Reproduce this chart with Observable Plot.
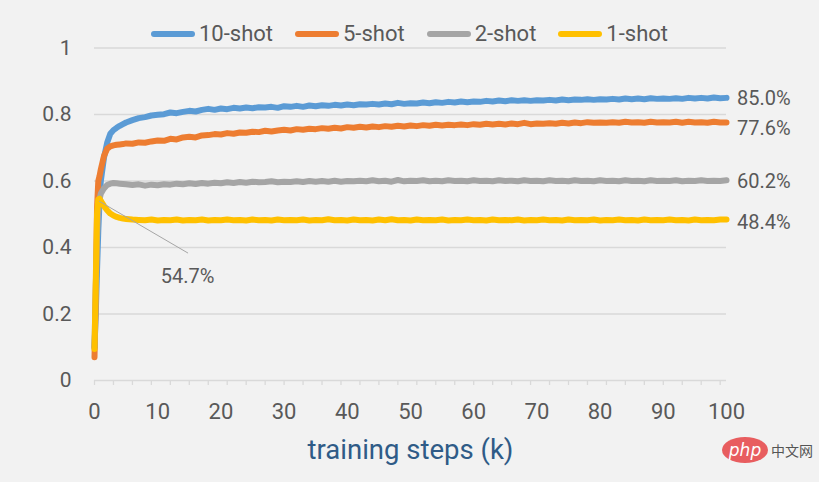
<!DOCTYPE html>
<html>
<head>
<meta charset="utf-8">
<script src="https://cdn.jsdelivr.net/npm/d3@7"></script>
<script src="https://cdn.jsdelivr.net/npm/@observablehq/plot@0.6"></script>
<style>
  html, body { margin: 0; padding: 0; background: #f2f2f2; }
  #wrap { position: relative; width: 819px; height: 482px; overflow: hidden; font-family: Roboto, "Open Sans", sans-serif; }
  #legend { position: absolute; top: 21px; left: 0; width: 819px; display: flex; justify-content: center; gap: 22px; font-size: 22px; color: #595959; z-index: 2; }
  #legend .item { display: flex; align-items: center; gap: 4px; }
  #legend .sw { width: 44px; height: 6px; border-radius: 3px; }
  svg g[aria-label^="x-axis"] line, svg g[aria-label^="x-axis"] path { stroke: #d9d9d9 !important; stroke-width: 1.3px; }
  #wm { position: absolute; left: 722px; top: 437px; display: flex; align-items: center; gap: 3px; }
  #wm .logo { width: 46px; height: 26px; border-radius: 50%; background: #e85d5f; color: #fff; font: italic 17px "DejaVu Sans", sans-serif; display: flex; align-items: center; justify-content: center; }
  #wm .cn { font: 14px "Noto Sans CJK SC", sans-serif; color: #555; }
</style>
</head>
<body>
<div id="wrap">
  <div id="legend"></div>
  <div id="chart"></div>
  <div id="wm"><div class="logo">php</div><div class="cn">中文网</div></div>
</div>
<script>
const series = ["10-shot", "5-shot", "2-shot", "1-shot"];
const colors = ["#5b9bd5", "#ed7d31", "#a5a5a5", "#ffc000"];

const steps = [0,0.2,0.4,0.6,0.8,1,1.5,2,2.5,3,3.5,4,4.5,
  5,6,7,8,9,10,11,12,13,14,15,16,17,18,19,20,
  21,22,23,24,25,26,27,28,29,30,31,32,33,34,35,36,37,38,39,40,
  41,42,43,44,45,46,47,48,49,50,51,52,53,54,55,56,57,58,59,60,
  61,62,63,64,65,66,67,68,69,70,71,72,73,74,75,76,77,78,79,80,
  81,82,83,84,85,86,87,88,89,90,91,92,93,94,95,96,97,98,99,100];

const shot10 = [0.100,0.200,0.330,0.450,0.540,0.600,0.670,0.715,0.742,0.753,0.760,0.766,0.771,
  0.776,0.783,0.789,0.792,0.797,0.799,0.801,0.806,0.804,0.808,0.811,0.809,0.814,0.817,0.814,0.818,
  0.816,0.820,0.818,0.821,0.819,0.822,0.821,0.823,0.820,0.825,0.823,0.826,0.823,0.827,0.825,0.828,0.826,0.829,0.827,0.830,
  0.828,0.831,0.830,0.832,0.830,0.833,0.831,0.835,0.832,0.834,0.833,0.836,0.834,0.837,0.835,0.838,0.836,0.839,0.837,0.839,
  0.838,0.841,0.839,0.842,0.840,0.843,0.841,0.843,0.841,0.843,0.842,0.844,0.842,0.845,0.843,0.845,0.844,0.846,0.844,0.846,
  0.845,0.847,0.845,0.848,0.846,0.848,0.846,0.849,0.847,0.848,0.847,0.849,0.847,0.850,0.848,0.850,0.848,0.851,0.849,0.850];

const shot5 = [0.070,0.250,0.520,0.600,0.615,0.635,0.675,0.697,0.704,0.707,0.709,0.710,0.711,
  0.713,0.712,0.716,0.715,0.719,0.722,0.721,0.727,0.725,0.731,0.733,0.731,0.737,0.738,0.741,0.740,
  0.744,0.742,0.746,0.745,0.748,0.747,0.751,0.749,0.752,0.754,0.752,0.756,0.754,0.757,0.756,0.759,0.757,0.760,0.758,0.762,
  0.760,0.763,0.761,0.764,0.762,0.765,0.763,0.766,0.764,0.767,0.765,0.768,0.766,0.769,0.767,0.769,0.768,0.770,0.768,0.771,
  0.769,0.772,0.770,0.772,0.770,0.773,0.771,0.775,0.771,0.773,0.772,0.774,0.772,0.775,0.773,0.776,0.774,0.777,0.775,0.776,
  0.775,0.777,0.775,0.778,0.776,0.777,0.775,0.778,0.776,0.777,0.776,0.778,0.775,0.778,0.776,0.777,0.775,0.778,0.776,0.776];

const shot2 = [0.100,0.280,0.430,0.510,0.545,0.562,0.578,0.588,0.592,0.594,0.593,0.592,0.591,
  0.590,0.588,0.590,0.586,0.589,0.587,0.590,0.589,0.592,0.590,0.593,0.591,0.594,0.592,0.595,0.593,
  0.596,0.594,0.597,0.595,0.598,0.596,0.597,0.599,0.596,0.598,0.597,0.599,0.597,0.600,0.598,0.600,0.598,0.601,0.598,0.600,
  0.599,0.601,0.599,0.602,0.599,0.601,0.598,0.603,0.599,0.601,0.600,0.602,0.599,0.601,0.599,0.602,0.600,0.601,0.599,0.602,
  0.600,0.601,0.599,0.602,0.600,0.601,0.599,0.602,0.600,0.601,0.599,0.602,0.600,0.601,0.599,0.602,0.600,0.601,0.599,0.602,
  0.600,0.601,0.599,0.602,0.600,0.601,0.599,0.602,0.600,0.601,0.600,0.602,0.599,0.601,0.600,0.602,0.600,0.601,0.600,0.602];

const shot1 = [0.095,0.300,0.500,0.545,0.547,0.540,0.525,0.512,0.502,0.496,0.492,0.489,0.487,
  0.486,0.484,0.483,0.482,0.484,0.481,0.483,0.482,0.484,0.481,0.483,0.482,0.484,0.481,0.483,0.482,
  0.484,0.482,0.483,0.481,0.484,0.482,0.483,0.481,0.484,0.482,0.483,0.482,0.484,0.481,0.483,0.482,0.485,0.482,0.483,0.481,
  0.484,0.482,0.483,0.481,0.484,0.482,0.485,0.482,0.483,0.481,0.484,0.482,0.483,0.482,0.484,0.481,0.483,0.482,0.484,0.482,
  0.483,0.481,0.484,0.482,0.483,0.482,0.484,0.481,0.483,0.482,0.484,0.482,0.483,0.481,0.484,0.482,0.483,0.482,0.484,0.481,
  0.483,0.482,0.484,0.482,0.483,0.481,0.484,0.482,0.483,0.482,0.484,0.482,0.483,0.481,0.484,0.482,0.483,0.482,0.484,0.484];

const endLabels = ["85.0%", "77.6%", "60.2%", "48.4%"];
const peakLabel = "54.7%";
const yTicks = [0, 0.2, 0.4, 0.6, 0.8, 1];
const xLabels = [0, 10, 20, 30, 40, 50, 60, 70, 80, 90, 100];
const xTicks = [0,3,6,9,12,15,18,21,24,27,30,33,36,39,42,45,48,51,54,57,60,63,66,69,72,75,78,81,84,87,90,93,96,99];
const xTitle = "training steps (k)";

const valueArrays = [shot10, shot5, shot2, shot1];
const rows = [];
series.forEach((s, i) => steps.forEach((st, j) => rows.push({series: s, step: st, value: valueArrays[i][j]})));
const labelShift = [1, 6, 1, 3];
const ends = series.map((s, i) => ({series: s, step: steps[steps.length - 1], value: valueArrays[i][valueArrays[i].length - 1], label: endLabels[i], shift: labelShift[i]}));
const peakIdx = d3.maxIndex(shot1);
const peak = {step: steps[peakIdx], value: shot1[peakIdx], label: peakLabel};

// legend
const legend = document.getElementById("legend");
series.forEach((s, i) => {
  const it = document.createElement("div"); it.className = "item";
  const sw = document.createElement("div"); sw.className = "sw"; sw.style.background = colors[i];
  const tx = document.createElement("span"); tx.textContent = s;
  it.appendChild(sw); it.appendChild(tx); legend.appendChild(it);
});

const leader = (index, scales, values, dimensions) => {
  const x0 = scales.x(peak.step), y0 = scales.y(peak.value);
  const g = d3.create("svg:g");
  g.append("line").attr("x1", x0).attr("y1", y0 + 3).attr("x2", x0 + 89).attr("y2", y0 + 55)
    .attr("stroke", "#a6a6a6").attr("stroke-width", 1);
  return g.node();
};

const endText = (index, scales) => {
  const g = d3.create("svg:g").attr("fill", "#595959").attr("font-size", 20).attr("text-anchor", "start");
  ends.forEach(d => {
    g.append("text").attr("x", scales.x(d.step) + 11).attr("y", scales.y(d.value) + d.shift)
      .attr("dy", "0.35em").attr("text-anchor", "start").text(d.label);
  });
  return g.node();
};

const chart = Plot.plot({
  width: 819,
  height: 482,
  marginTop: 47.5,
  marginBottom: 102,
  marginLeft: 94,
  marginRight: 93,
  style: {background: "#f2f2f2", color: "#595959", fontSize: "21px", fontFamily: "Roboto, 'Open Sans', sans-serif", overflow: "visible"},
  x: {domain: [0, 100], ticks: xTicks, tickSize: 5, tickFormat: () => "", label: null},
  y: {domain: [0, 1], ticks: yTicks, tickSize: 0, tickPadding: 23, tickFormat: d => String(d), label: null},
  color: {domain: series, range: colors},
  marks: [
    Plot.ruleY(yTicks, {y: d => d, stroke: "#d9d9d9", strokeWidth: 1.3}),
    Plot.line(rows, {x: "step", y: "value", z: "series", stroke: "series", strokeWidth: 6, strokeLinejoin: "round", strokeLinecap: "round"}),
    Plot.text(xLabels, {x: d => d, frameAnchor: "bottom", dy: 38, text: d => String(d), fill: "#595959", fontSize: 22}),
    Plot.text([xTitle], {frameAnchor: "bottom", dy: 78, text: d => d, fill: "#2f5b87", fontSize: 27.5}),
    endText,
    leader,
    Plot.text([peak], {x: "step", y: "value", text: "label", dx: 88, dy: 78, fill: "#595959", fontSize: 20})
  ]
});
document.getElementById("chart").appendChild(chart);
</script>
</body>
</html>
